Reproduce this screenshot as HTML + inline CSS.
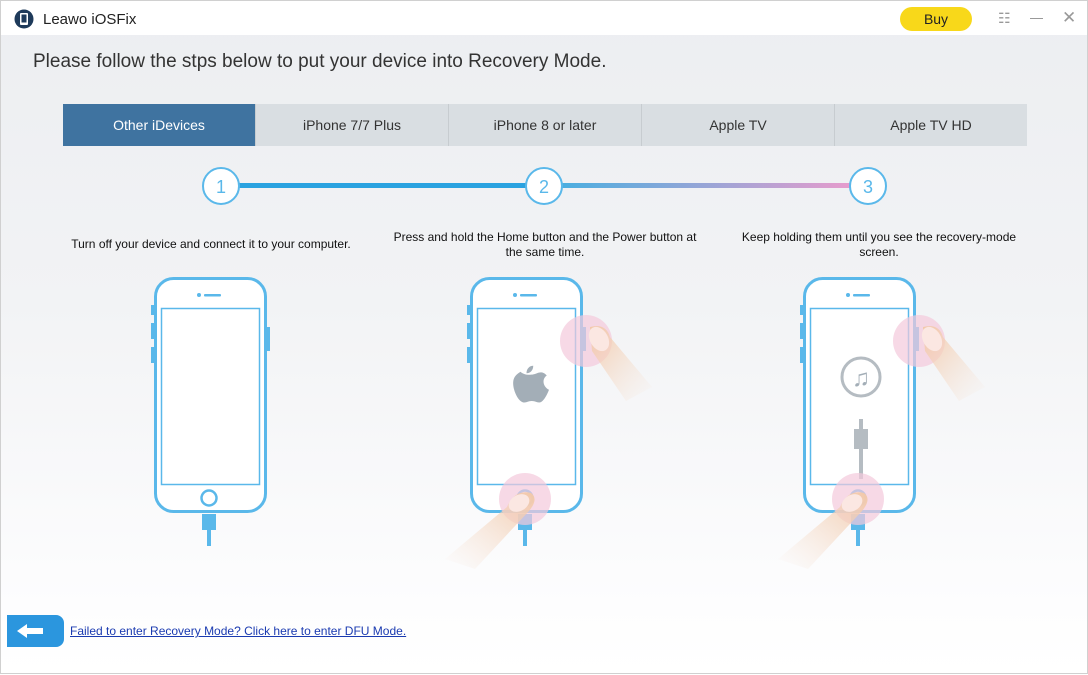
<!DOCTYPE html>
<html><head><meta charset="utf-8"><style>
body{margin:0;width:1088px;height:674px;overflow:hidden;font-family:"Liberation Sans",sans-serif;}
.win{position:absolute;left:0;top:0;width:1086px;height:672px;border:1px solid #d0d0d0;background:linear-gradient(#eceef1 0%,#f2f3f5 45%,#fdfdfe 90%,#fff 100%);}
.title{position:absolute;left:0;top:0;width:1086px;height:34px;background:#fff;}
.tabs{position:absolute;left:62px;top:103px;width:964px;height:42px;display:flex;}
.tab{flex:1;background:#d9dee2;color:#333;font-size:14px;text-align:center;line-height:42px;border-left:1px solid #c7ccd0;}
.tab.a{background:#3f73a0;color:#fff;border:none}
.t{position:absolute;font-size:12px;color:#111;text-align:center;line-height:15px}
</style></head><body>
<div class="win">
<div class="title">
 <svg style="position:absolute;left:13px;top:8px" width="20" height="20"><circle cx="10" cy="10" r="9.5" fill="#1e3a5a"/><rect x="6" y="4" width="8" height="12" rx="1" fill="#fff"/><rect x="7.5" y="5.5" width="5" height="8" fill="#1e3a5a"/></svg>
 <div style="position:absolute;left:42px;top:10px;font-size:15px;color:#222">Leawo iOSFix</div>
 <div style="position:absolute;left:899px;top:6px;width:72px;height:24px;border-radius:12px;background:#f8d81a;text-align:center;line-height:24px;font-size:14px;color:#222">Buy</div>
 <div style="position:absolute;left:997px;top:9px;font-size:14px;color:#999">☷</div>
 <div style="position:absolute;left:1029px;top:17px;width:13px;height:1px;background:#999"></div>
 <div style="position:absolute;left:1061px;top:7px;font-size:17px;color:#999">✕</div>
</div>
<div style="position:absolute;left:32px;top:50px;font-size:19px;color:#333">Please follow the stps below to put your device into Recovery Mode.</div>
<div class="tabs"><div class="tab a">Other iDevices</div><div class="tab">iPhone 7/7 Plus</div><div class="tab">iPhone 8 or later</div><div class="tab">Apple TV</div><div class="tab">Apple TV HD</div></div>
<svg style="position:absolute;left:0;top:0" width="1088" height="674">
<defs><linearGradient id="g" x1="0" x2="1"><stop offset="0" stop-color="#4aaee0"/><stop offset="1" stop-color="#e79ccd"/></linearGradient>
<linearGradient id="f1" x1="1" y1="0" x2="0" y2="1"><stop offset="0" stop-color="#f2c8a8"/><stop offset="1" stop-color="#f7e4d6" stop-opacity="0"/></linearGradient>
<linearGradient id="f2" x1="0" y1="0" x2="1" y2="1"><stop offset="0" stop-color="#f2c8a8"/><stop offset="1" stop-color="#f7e4d6" stop-opacity="0"/></linearGradient>
<g id="ph"><rect x="1.5" y="1.5" width="110" height="233" rx="18" fill="#fff" stroke="#5ab8ea" stroke-width="3"/><rect x="7.5" y="31.5" width="98" height="176" fill="none" stroke="#5ab8ea" stroke-width="1.5"/><circle cx="45" cy="18" r="2" fill="#5ab8ea"/><rect x="50" y="17" width="17" height="2.5" rx="1" fill="#5ab8ea"/><circle cx="55" cy="221" r="7.5" fill="none" stroke="#5ab8ea" stroke-width="2.5"/><rect x="-3" y="28" width="4" height="10" fill="#5ab8ea"/><rect x="-3" y="46" width="4" height="16" fill="#5ab8ea"/><rect x="-3" y="70" width="4" height="16" fill="#5ab8ea"/><rect x="112" y="50" width="4" height="24" fill="#5ab8ea"/><rect x="48" y="237" width="14" height="16" fill="#5ab8ea"/><rect x="53" y="253" width="4" height="16" fill="#5ab8ea"/></g>
<g id="fin"><circle cx="0" cy="0" r="26" fill="#f4c9dc" opacity="0.7"/><path d="M-18,8 Q-10,-10 6,-6 Q14,0 4,12 L-50,70 L-80,60 Z" fill="url(#f1)"/><ellipse cx="-6" cy="4" rx="11" ry="8" fill="#fbe7e2" transform="rotate(-30 -6 4)"/></g>
<g id="fin2"><circle cx="0" cy="0" r="26" fill="#f4c9dc" opacity="0.7"/><path d="M4,-14 Q20,-18 24,-4 L66,46 L40,60 L6,10 Z" fill="url(#f2)"/><ellipse cx="13" cy="-2" rx="9" ry="13" fill="#fbe7e2" transform="rotate(-30 13 -2)"/></g>
</defs>
<rect x="238" y="182" width="290" height="5" fill="#2aa2e0"/>
<rect x="560" y="182" width="290" height="5" fill="url(#g)"/>
<g fill="#fff" stroke="#5ab8ea" stroke-width="2"><circle cx="220" cy="185" r="18"/><circle cx="543" cy="185" r="18"/><circle cx="867" cy="185" r="18"/></g>
<g font-family="Liberation Sans" font-size="18" fill="#5ab8ea" text-anchor="middle"><text x="220" y="192">1</text><text x="543" y="192">2</text><text x="867" y="192">3</text></g>
<use href="#ph" x="153" y="276"/><use href="#ph" x="469" y="276"/><use href="#ph" x="802" y="276"/>
<g transform="translate(527,385) scale(0.75) translate(-528,-380)"><path d="M528,365 c-6,0 -10,-4 -10,-4 c-6,4 -12,8 -9,22 c3,12 9,19 14,19 c4,0 5,-2 10,-2 c5,0 6,2 10,2 c5,0 10,-9 13,-17 c-8,-4 -10,-14 -3,-19 c-4,-5 -9,-5 -13,-3 c-5,2 -8,2 -12,2z M526,363 c0,-6 4,-10 9,-10 c0,6 -4,10 -9,10z" fill="#a3aeb7"/></g>
<circle cx="860" cy="376" r="19" fill="#fff" stroke="#b5bcc2" stroke-width="3"/><text x="860" y="385" font-size="24" fill="#a3aeb7" text-anchor="middle">♫</text>
<rect x="858" y="418" width="4" height="10" fill="#b5bcc2"/><rect x="853" y="428" width="14" height="20" fill="#b5bcc2"/><rect x="858" y="448" width="4" height="30" fill="#b5bcc2"/>
<use href="#fin2" x="585" y="340"/><use href="#fin2" x="918" y="340"/>
<use href="#fin" x="524" y="498"/><use href="#fin" x="857" y="498"/>
<path d="M6,614 h49 a8,8 0 0 1 8,8 v16 a8,8 0 0 1 -8,8 h-49 z" fill="#2b96de"/>
<path d="M16,630 l10,-7 v4 h16 v6 h-16 v4 z" fill="#fff"/>
</svg>
<div class="t" style="left:40px;top:236px;width:340px">Turn off your device and connect it to your computer.</div>
<div class="t" style="left:385px;top:229px;width:318px">Press and hold the Home button and the Power button at the same time.</div>
<div class="t" style="left:733px;top:229px;width:290px">Keep holding them until you see the recovery-mode screen.</div>
<div style="position:absolute;left:69px;top:623px;font-size:12px;color:#1a3ab0;text-decoration:underline">Failed to enter Recovery Mode? Click here to enter DFU Mode.</div>
</div>
</body></html>
